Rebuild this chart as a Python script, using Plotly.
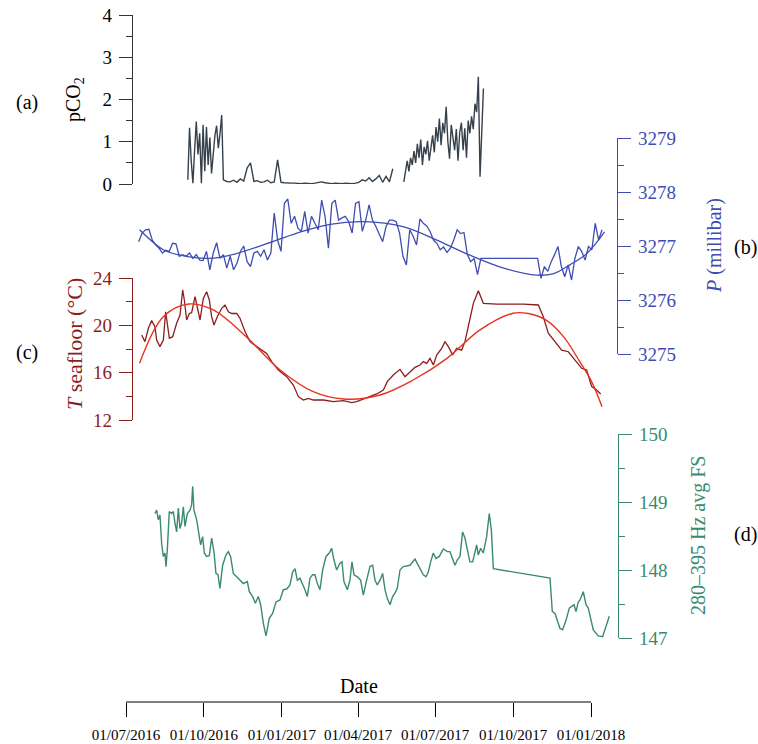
import plotly.graph_objects as go
import pandas as pd

# ---------------- data (days since 01/07/2016) ----------------
T0 = pd.Timestamp("2016-07-01")

# pCO2: three regularly sampled pieces (the last after a data gap)
PCO2_A_DAYS = list(range(73, 114, 2))
PCO2_A = [0.10, 1.33, 0.55, 0.02, 0.80, 1.48, 0.70, 1.20, 0.02, 1.40, 0.30, 1.35, 0.45,
          1.10, 0.25, 0.70, 1.15, 1.38, 0.85, 1.20, 1.63]
PCO2_B_DAYS = list(range(115, 316, 4))
PCO2_B = [0.10, 0.06, 0.05, 0.09, 0.04, 0.12, 0.07, 0.38, 0.50, 0.06,
          0.08, 0.04, 0.05, 0.09, 0.03, 0.05, 0.57, 0.04, 0.03, 0.02,
          0.02, 0.02, 0.01, 0.01, 0.02, 0.01, 0.01, 0.02, 0.03, 0.05,
          0.03, 0.02, 0.01, 0.02, 0.01, 0.01, 0.02, 0.01, 0.01, 0.02,
          0.04, 0.10, 0.07, 0.15, 0.06, 0.12, 0.20, 0.04, 0.18, 0.05, 0.36]
PCO2_C_DAYS = list(range(328, 423, 2))
PCO2_C = [0.05, 0.35, 0.55, 0.30, 0.62, 0.45, 0.78, 0.50, 0.95, 0.62,
          1.05, 0.45, 0.88, 0.70, 1.02, 0.55, 0.92, 1.15, 0.75, 1.35,
          1.00, 1.55, 0.92, 1.45, 1.20, 1.83, 1.00, 0.60, 1.40, 1.10,
          0.80, 1.30, 0.55, 1.22, 1.45, 0.80, 1.32, 0.62, 1.50, 1.20,
          1.60, 1.30, 1.90, 1.70, 2.54, 0.17, 1.20, 2.26]

# Pressure (millibar)
P_A_DAYS = list(range(15, 420, 4))
P_A = [3277.08, 3277.24, 3277.30, 3277.31, 3277.11, 3277.02, 3276.96, 3276.87, 3276.92, 3276.90,
       3277.05, 3277.04, 3276.81, 3276.84, 3276.81, 3276.87, 3276.77, 3276.84, 3276.74, 3276.73,
       3276.90, 3276.56, 3276.87, 3277.06, 3276.77, 3276.84, 3276.59, 3276.81, 3276.56, 3276.68,
       3276.90, 3277.00, 3276.71, 3276.62, 3276.87, 3276.90, 3276.81, 3276.93, 3276.74, 3276.87,
       3277.61, 3277.11, 3276.90, 3277.79, 3277.87, 3277.42, 3277.55, 3277.33, 3277.27, 3277.64,
       3277.24, 3277.55, 3277.42, 3277.30, 3277.85, 3277.55, 3276.96, 3277.79, 3277.85, 3277.48,
       3277.52, 3277.55, 3277.45, 3277.24, 3277.79, 3277.82, 3277.27, 3277.48, 3277.76, 3277.48,
       3277.36,
       3277.21, 3277.08, 3277.36, 3277.48, 3277.48, 3277.45, 3277.24, 3276.81, 3276.65, 3277.30,
       3277.18, 3277.02, 3277.50, 3277.42, 3277.37, 3277.27, 3277.11, 3277.05, 3276.93, 3276.98,
       3276.88, 3276.96, 3277.11, 3277.30, 3277.23, 3277.25, 3276.84, 3276.71, 3276.77, 3276.47,
       3276.77]
P_B_DAYS = list(range(486, 563, 4))
P_B = [3276.77, 3276.40, 3276.62, 3276.53, 3276.71, 3276.84, 3276.99, 3276.62, 3276.43, 3276.65,
       3276.37, 3276.77, 3276.99, 3276.90, 3276.74, 3276.99, 3276.93, 3277.42, 3277.11, 3277.30]
P_FIT_DAYS = [16, 44, 64, 99, 123, 162, 202, 241, 280, 327, 367, 406, 446, 485, 505, 524, 544, 565]
P_FIT = [3277.30, 3276.93, 3276.83, 3276.77, 3276.83, 3277.02, 3277.24, 3277.40, 3277.45,
         3277.36, 3277.11, 3276.83, 3276.59, 3276.46, 3276.49, 3276.65, 3276.86, 3277.26]

# Seafloor temperature (deg C)
T_DAYS = [18.5, 22.4, 26.4, 30.3, 34.2, 36.2, 40.1, 44.1, 46.8, 48.8,
          51.2, 55.1, 59.8, 63.8, 66.9, 68.9, 71.6, 74.8, 77.5, 81.5,
          83.4, 87.4, 91.3, 95.2, 98.4, 101.1, 103.9, 107.8, 113, 116.9,
          120.8, 124.8, 130.7, 134.6, 140.5, 146.4, 154.3, 160.2, 166.1, 172,
          179.9, 189.7, 197.6, 203.5, 209.4, 215.3, 221.2, 233, 244.8, 256.6,
          266.4, 272.3, 280.2, 288.1, 296, 303.8, 308.5, 315.6, 323.5, 329.4,
          335.3, 341.2, 347.1, 351, 355, 358.9, 362.9, 366.8, 372.7, 376.6,
          380.6, 385.7, 390.4, 396.3, 400.2, 404.2, 410.1, 416, 421.9, 437.6,
          469.1, 486.8, 492.7, 498.6, 506.5, 514.4, 522.2, 530.1, 538, 543.9,
          549.8, 555.7, 560.4]
T_VALS = [19.18, 18.62, 19.75, 20.4, 19.89, 18.76, 18.2, 18.76, 21.15, 19.89,
          18.9, 19.04, 20.17, 20.87, 22.99, 22.14, 20.45, 21.0, 21.07, 22.42,
          21.72, 20.45, 22.28, 22.84, 22.14, 20.73, 20.03, 20.73, 21.44, 21.72,
          21.15, 21.0, 21.0, 20.59, 19.47, 18.62, 18.2, 17.91, 17.63, 16.93,
          16.22, 15.66, 14.96, 13.97, 13.69, 13.83, 13.69, 13.69, 13.55, 13.63,
          13.47, 13.55, 13.75, 13.97, 14.2, 14.54, 15.24, 15.8, 16.28, 15.66,
          16.08, 16.45, 16.65, 16.93, 16.79, 17.21, 16.65, 17.49, 18.06, 18.62,
          18.2, 17.49, 18.06, 17.91, 18.62, 20.03, 21.86, 22.93, 21.86, 21.8,
          21.8, 21.72, 20.73, 19.33, 18.62, 17.91, 17.77, 17.07, 16.37, 16.22,
          14.82, 14.54, 14.2]
T_FIT_DAYS = [16, 44, 74, 103, 142, 182, 221, 257, 300, 339, 379, 418, 457, 475, 497, 517, 536, 550, 562]
T_FIT = [16.79, 20.73, 21.80, 21.30, 19.04, 16.22, 14.39, 13.77, 14.11, 15.38, 17.21, 19.61,
         21.02, 21.0, 20.4, 19.0, 16.9, 15.2, 13.13]

# 280-395 Hz average FS
D_DAYS = [34.2, 36.2, 38.1, 40.1, 42.1, 44, 46, 47.2, 48.8, 51.1,
          53.9, 55.9, 57.8, 59.8, 61.8, 63.7, 65.7, 67.7, 69.6, 72.4,
          75.5, 77.5, 78.7, 80.2, 83.4, 86.5, 88.1, 90.5, 92.4, 95.2,
          98.3, 101.1, 103.9, 106.2, 108.6, 110.9, 114.1, 118, 120.8, 123.5,
          126.7, 130.6, 134.6, 138.5, 143.2, 145.6, 149.5, 152.7, 156.2, 159,
          162.1, 165.3, 169.2, 173.1, 177.1, 181.8, 185.7, 189.7, 193.6, 196.7,
          199.5, 202.3, 205.4, 208.5, 211.3, 214.1, 217.2, 220.3, 223.1, 225.9,
          229, 232.2, 236.1, 240, 242.8, 245.5, 248.7, 252.6, 255, 257.3,
          261.3, 264.4, 266.8, 269.2, 273.1, 277, 280.2, 284.1, 288.1, 291.2,
          294, 296.7, 299.9, 303, 305.8, 308.5, 311.7, 314.8, 317.6, 320.3,
          323.5, 327.4, 335.3, 341.2, 345.1, 347.9, 351, 354.2, 356.9, 359.7,
          362.8, 366, 369.9, 374.6, 379.3, 382.5, 385.6, 388.4, 391.2, 394.3,
          397.4, 400.2, 403, 406.1, 409.3, 412, 414, 415.9, 418.7, 421.8,
          423.8, 425.8, 428.9, 431.3, 433.7, 500.6, 503.3, 506.5, 512.4, 515.5,
          519.5, 523.4, 528.9, 531.3, 534, 536, 539.9, 543.1, 545.8, 547.8,
          551.7, 557.6, 562.7, 570.6]
D_VALS = [148.83, 148.88, 148.74, 148.81, 148.39, 148.2, 148.25, 148.05, 148.3, 148.86,
          148.83, 148.86, 148.69, 148.56, 148.91, 148.61, 148.69, 148.93, 148.64, 148.83,
          148.88, 148.96, 149.23, 148.88, 148.74, 148.44, 148.37, 148.49, 148.25, 148.2,
          148.21, 148.47, 148.27, 147.95, 147.93, 147.73, 148.07, 148.22, 148.27, 148.2,
          147.95, 147.9, 147.85, 147.8, 147.83, 147.68, 147.61, 147.51, 147.61, 147.49,
          147.22, 147.03, 147.29, 147.36, 147.53, 147.56, 147.71, 147.72, 147.78, 147.97,
          148.02, 147.85, 147.88, 147.8, 147.71, 147.61, 147.88, 147.93, 147.93, 147.8,
          147.71, 148.0, 148.2, 148.25, 148.32, 148.15, 148.0, 148.1, 148.12, 147.83,
          147.71, 147.85, 148.12, 147.93, 147.9, 147.85, 147.63, 147.85, 148.05, 148.07,
          147.85, 147.78, 147.85, 147.95, 147.71, 147.58, 147.49, 147.61, 147.66, 147.73,
          148.0, 148.05, 148.07, 148.16, 148.07, 148.02, 147.93, 147.9, 147.97, 148.12,
          148.25, 148.17, 148.2, 148.31, 148.27, 148.27, 148.17, 148.07, 148.15, 148.2,
          148.56, 148.47, 148.3, 148.12, 148.12, 148.25, 148.37, 148.22, 148.32, 148.25,
          148.37, 148.49, 148.83, 148.59, 148.02, 147.88, 147.39, 147.36, 147.14, 147.12,
          147.26, 147.44, 147.49, 147.39, 147.53, 147.56, 147.68, 147.49, 147.44, 147.32,
          147.12, 147.03, 147.02, 147.32]

X_TICKS = ["2016-07-01", "2016-10-01", "2017-01-01", "2017-04-01", "2017-07-01", "2017-10-01", "2018-01-01"]
X_TICK_TEXT = ["01/07/2016", "01/10/2016", "01/01/2017", "01/04/2017", "01/07/2017", "01/10/2017", "01/01/2018"]

for a, b in [(PCO2_A_DAYS, PCO2_A), (PCO2_B_DAYS, PCO2_B), (PCO2_C_DAYS, PCO2_C), (P_A_DAYS, P_A),
             (P_B_DAYS, P_B), (P_FIT_DAYS, P_FIT), (T_DAYS, T_VALS), (T_FIT_DAYS, T_FIT), (D_DAYS, D_VALS)]:
    assert len(a) == len(b), (len(a), len(b))

# ---------------- layout helpers ----------------
W, H = 758, 744
FONT = "Liberation Serif"
PX_PER_DAY = 465 / 549.0
X_END_DAYS = 573


def dates(days):
    return [T0 + pd.Timedelta(days=float(d)) for d in days]


def fx(px):
    return px / W


def fy(px):
    return 1 - px / H


C_CO2 = "#36414c"
C_P = "#3f4db2"
C_T = "#8c1d1d"
C_TFIT = "#e8321e"
C_D = "#3a8a72"
C_AX = "#333333"

fig = go.Figure()

co2_x = dates(PCO2_A_DAYS + PCO2_B_DAYS) + [None] + dates(PCO2_C_DAYS)
co2_y = PCO2_A + PCO2_B + [None] + PCO2_C
fig.add_trace(go.Scatter(x=co2_x, y=co2_y, mode="lines", yaxis="y",
                         line=dict(color=C_CO2, width=1.4), connectgaps=False))

fig.add_trace(go.Scatter(x=dates(P_A_DAYS + P_B_DAYS), y=P_A + P_B, mode="lines", yaxis="y2",
                         line=dict(color=C_P, width=1.3)))
fig.add_trace(go.Scatter(x=dates(P_FIT_DAYS), y=P_FIT, mode="lines", yaxis="y2",
                         line=dict(color=C_P, width=1.3, shape="spline")))

fig.add_trace(go.Scatter(x=dates(T_DAYS), y=T_VALS, mode="lines", yaxis="y3",
                         line=dict(color=C_T, width=1.3)))
fig.add_trace(go.Scatter(x=dates(T_FIT_DAYS), y=T_FIT, mode="lines", yaxis="y3",
                         line=dict(color=C_TFIT, width=1.4, shape="spline")))

fig.add_trace(go.Scatter(x=dates(D_DAYS), y=D_VALS, mode="lines", yaxis="y4",
                         line=dict(color=C_D, width=1.4)))

x_right = 126 + X_END_DAYS * PX_PER_DAY


def yax(color, rng, top, bottom, xpos, side, dtick, minor, labcolor=None):
    return dict(
        domain=[fy(bottom), fy(top)], range=rng, anchor="free", position=fx(xpos), side=side,
        showline=True, linecolor=color, linewidth=1.2, ticks="outside", ticklen=13,
        tickcolor=color, tickwidth=1.2, dtick=dtick, tick0=rng[0],
        minor=dict(dtick=minor, ticklen=6, ticks="outside", tickcolor=color, tickwidth=1.2),
        tickfont=dict(family=FONT, size=19, color=labcolor or color), showgrid=False,
        zeroline=False, ticklabelstandoff=3, fixedrange=True, automargin=False,
    )


fig.update_layout(
    width=W, height=H, margin=dict(l=0, r=0, t=0, b=0, autoexpand=False),
    paper_bgcolor="white", plot_bgcolor="rgba(0,0,0,0)", showlegend=False,
    font=dict(family=FONT, color="black"),
    xaxis=dict(domain=[fx(126), fx(x_right)], range=[T0, T0 + pd.Timedelta(days=X_END_DAYS)],
               anchor="free", position=fy(702), showline=False, showgrid=False, zeroline=False,
               tickmode="array", tickvals=X_TICKS, ticktext=X_TICK_TEXT, ticks="outside",
               ticklen=14, tickcolor="black", tickwidth=1.2, automargin=False,
               tickfont=dict(family=FONT, size=15, color="black"), ticklabelstandoff=5,
               fixedrange=True),
    yaxis=yax(C_AX, [0, 4], 15, 184, 132, "left", 1, 0.5, labcolor="black"),
    yaxis2=yax(C_P, [3275, 3279], 138, 354, 617, "right", 1, 0.5),
    yaxis3=yax(C_T, [12, 24], 278, 420, 132, "left", 4, 2),
    yaxis4=yax(C_D, [147, 150], 434, 638, 618, "right", 1, 0.5),
)

fig.add_shape(type="line", xref="x", yref="paper", x0=T0, x1=pd.Timestamp("2018-01-01"),
              y0=fy(702), y1=fy(702), line=dict(color="black", width=1.2))


def ann(text, x, y, color="black", size=20, angle=0):
    fig.add_annotation(text=text, x=fx(x), y=fy(y), xref="paper", yref="paper", showarrow=False,
                       xanchor="center", yanchor="middle", textangle=angle,
                       font=dict(family=FONT, size=size, color=color))


ann("(a)", 27, 103)
ann("pCO<sub>2</sub>", 74, 100, angle=-90)
ann("(b)", 745, 248)
ann("<i>P</i> (millibar)", 715, 246, color=C_P, angle=-90)
ann("(c)", 27, 352)
ann("<i>T</i> seafloor (°C)", 74, 344, color=C_T, size=22, angle=-90)
ann("(d)", 745, 534)
ann("280–395 Hz avg FS", 698, 536, color=C_D, angle=-90)
ann("Date", 359, 686)

fig.write_html("out.html", config={"displayModeBar": False},
               post_script="document.body.style.margin='0';document.body.style.overflow='hidden';")
